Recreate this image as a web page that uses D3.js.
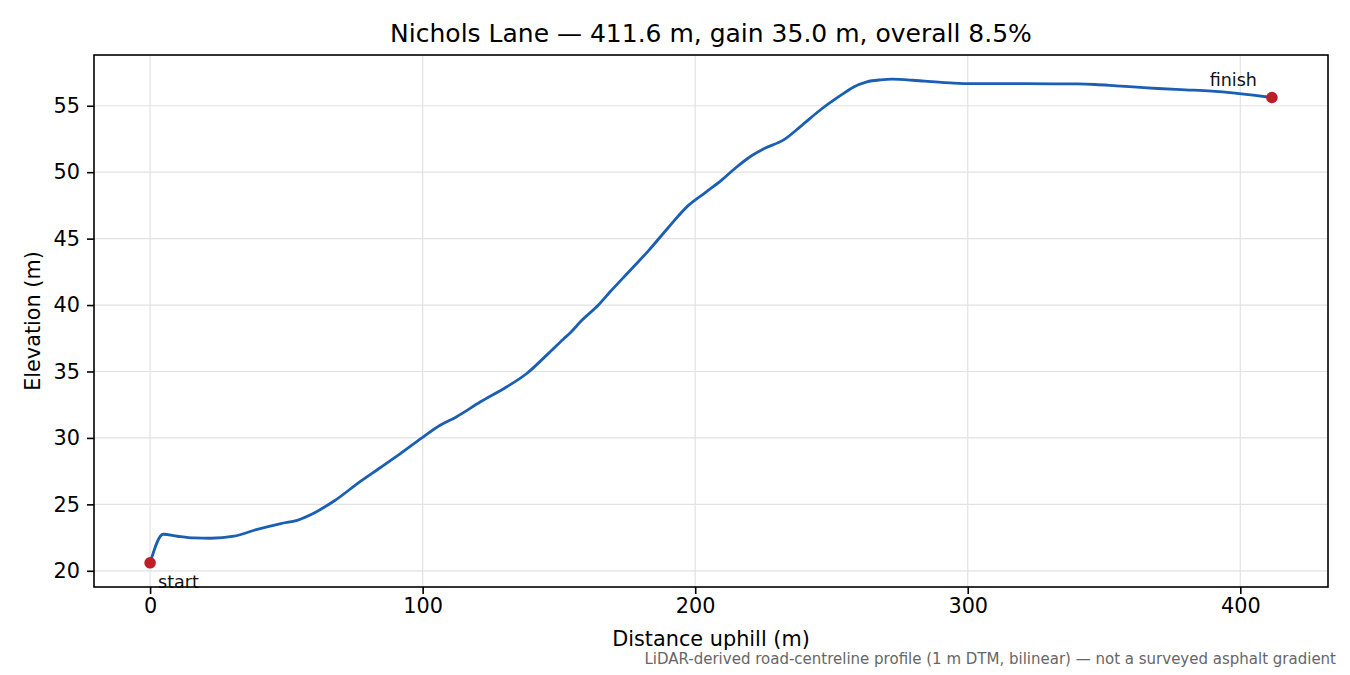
<!DOCTYPE html>
<html><head><meta charset="utf-8">
<script src="https://cdn.jsdelivr.net/npm/d3@7"></script>
<style>
html,body{margin:0;padding:0;background:#fff;}
svg{display:block;font-family:"DejaVu Sans",sans-serif;}
</style></head>
<body><svg id="c" width="1350" height="675"></svg>
<script>
const distances = [0,4.8,10,16.1,22.3,30.8,38.2,48,54,60.2,67.5,77.3,84,91.7,99.7,106.4,112.5,121.1,130.9,138.2,145.6,151.7,154.1,158.4,164.5,168.8,176.1,182.9,190,197.5,203.6,209.7,215,220.4,225,232.6,238.7,246,253.9,258,263,268,272.2,279.8,284,293.5,301.1,310,320,331.6,340,346.8,354.5,362,369.7,380,389.5,398,404.7,411.6];
const elevations = [20.6,22.75,22.6,22.47,22.45,22.6,23.05,23.55,23.8,24.35,25.25,26.75,27.7,28.8,30.0,30.95,31.6,32.7,33.85,34.85,36.25,37.45,37.9,38.85,40.0,41.0,42.6,44.1,45.8,47.5,48.45,49.4,50.35,51.2,51.75,52.45,53.45,54.7,55.85,56.4,56.8,56.95,57.0,56.92,56.85,56.72,56.66,56.67,56.66,56.65,56.64,56.6,56.5,56.4,56.3,56.2,56.1,55.95,55.8,55.62];
const xTicks = [0,100,200,300,400];
const yTicks = [20,25,30,35,40,45,50,55];
const titleText = "Nichols Lane \u2014 411.6 m, gain 35.0 m, overall 8.5%";
const xLabel = "Distance uphill (m)";
const yLabel = "Elevation (m)";
const footnote = "LiDAR-derived road-centreline profile (1 m DTM, bilinear) \u2014 not a surveyed asphalt gradient";
const markerLabels = ["start","finish"];

const svg = d3.select("#c");
const L=94, R=1328, T=55, B=587;
const data = distances.map((d,i)=>({x:d,y:elevations[i]}));
const xr = d3.extent(distances), yr = d3.extent(elevations);
const xm = (xr[1]-xr[0])*0.05, ym=(yr[1]-yr[0])*0.05;
const x = d3.scaleLinear().domain([xr[0]-xm, xr[1]+xm]).range([L,R]);
const y = d3.scaleLinear().domain([yr[0]-ym, yr[1]+ym]).range([B,T]);

// grid
svg.append("g").selectAll("line").data(xTicks).join("line")
  .attr("x1",d=>x(d)).attr("x2",d=>x(d)).attr("y1",T).attr("y2",B)
  .attr("stroke","#e2e2e2").attr("stroke-width",1.2);
svg.append("g").selectAll("line").data(yTicks).join("line")
  .attr("y1",d=>y(d)).attr("y2",d=>y(d)).attr("x1",L).attr("x2",R)
  .attr("stroke","#e2e2e2").attr("stroke-width",1.2);

// line
const line = d3.line().x(d=>x(d.x)).y(d=>y(d.y)).curve(d3.curveMonotoneX);
svg.append("path").datum(data).attr("d",line).attr("fill","none")
  .attr("stroke","#1a5fb4").attr("stroke-width",2.8).attr("stroke-linejoin","round");

// markers
const ends=[data[0],data[data.length-1]];
svg.append("g").selectAll("circle").data(ends).join("circle")
  .attr("cx",d=>x(d.x)).attr("cy",d=>y(d.y)).attr("r",5.8).attr("fill","#c01c28");
svg.append("text").attr("x",x(ends[0].x)+8).attr("y",y(ends[0].y)+25)
  .attr("font-size",17.5).attr("fill","#111").text(markerLabels[0]);
svg.append("text").attr("x",x(ends[1].x)-15).attr("y",y(ends[1].y)-12)
  .attr("text-anchor","end").attr("font-size",17.5).attr("fill","#111").text(markerLabels[1]);

// axes
const xAxis = d3.axisBottom(x).tickValues(xTicks).tickSize(7).tickPadding(4).tickFormat(d3.format("d"));
const yAxis = d3.axisLeft(y).tickValues(yTicks).tickSize(7).tickPadding(7).tickFormat(d3.format("d"));
const gx = svg.append("g").attr("transform",`translate(0,${B})`).call(xAxis);
const gy = svg.append("g").attr("transform",`translate(${L},0)`).call(yAxis);
[gx,gy].forEach(g=>{
  g.select(".domain").remove();
  g.selectAll(".tick line").attr("stroke","#000").attr("stroke-width",1.6);
  g.selectAll(".tick text").attr("font-size",20.8).attr("fill","#000").attr("font-family","DejaVu Sans");
});
// frame
svg.append("rect").attr("x",L).attr("y",T).attr("width",R-L).attr("height",B-T)
  .attr("fill","none").attr("stroke","#000").attr("stroke-width",1.6);

// labels
svg.append("text").attr("x",(L+R)/2).attr("y",42).attr("text-anchor","middle")
  .attr("font-size",25).attr("fill","#000").text(titleText);
svg.append("text").attr("x",(L+R)/2).attr("y",646).attr("text-anchor","middle")
  .attr("font-size",20.8).attr("fill","#000").text(xLabel);
svg.append("text").attr("transform",`translate(40,${(T+B)/2}) rotate(-90)`).attr("text-anchor","middle")
  .attr("font-size",20.8).attr("fill","#000").text(yLabel);
svg.append("text").attr("x",1336).attr("y",664).attr("text-anchor","end")
  .attr("font-size",15).attr("fill","#666").text(footnote);
</script></body></html>
